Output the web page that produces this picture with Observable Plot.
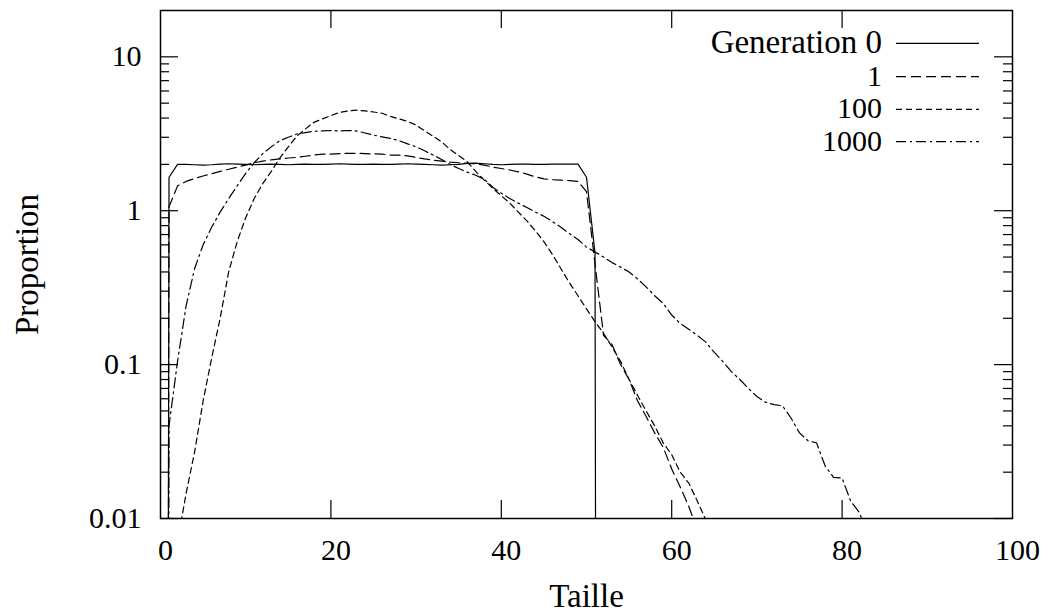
<!DOCTYPE html>
<html>
<head>
<meta charset="utf-8">
<script src="https://cdn.jsdelivr.net/npm/d3@7"></script>
<script src="https://cdn.jsdelivr.net/npm/@observablehq/plot@0.6"></script>
<style>
  html, body { margin: 0; padding: 0; background: white; overflow: hidden; }
  #chart { width: 1049px; height: 614px; }
</style>
</head>
<body>
<div id="chart"></div>
<script>
// ---- Data ----
// Particle size ("Taille") index
const sizes = d3.range(0, 84);
// Series names as they appear in the key
const seriesNames = ["Generation 0", "1", "100", "1000"];
// 1e-30 stands for a zero proportion (below the log axis)
const gen0 = [1e-30, 1.65, 2.0, 2.0, 1.99, 1.98, 1.99, 2.01, 2.02, 2.01,
  2.0, 1.99, 2.0, 2.01, 2.0, 1.99, 2.0, 2.01, 2.0, 2.0,
  2.01, 2.02, 2.01, 2.0, 2.0, 2.01, 2.0, 2.0, 2.01, 2.02,
  2.01, 2.0, 1.99, 1.98, 1.99, 2.0, 2.03, 2.04, 2.02, 2.0,
  1.99, 2.0, 2.01, 2.01, 2.0, 2.0, 2.01, 2.01, 2.01, 2.01,
  1.65, 0.53, 1e-30];
const gen1 = [1e-30, 1.06, 1.45, 1.55, 1.62, 1.68, 1.74, 1.8, 1.86, 1.92,
  1.98, 2.05, 2.1, 2.14, 2.17, 2.2, 2.22, 2.26, 2.3, 2.33,
  2.33, 2.35, 2.36, 2.36, 2.35, 2.34, 2.33, 2.3, 2.3, 2.27,
  2.22, 2.17, 2.13, 2.1, 2.07, 2.05, 2.03, 2.02, 1.98, 1.92,
  1.88, 1.84, 1.79, 1.73, 1.66, 1.61, 1.59, 1.58, 1.57, 1.55,
  1.33, 0.45, 0.155, 0.135, 0.1, 0.08, 0.058, 0.046, 0.036, 0.029,
  0.021, 0.016, 0.012, 0.0085];
const gen100 = [null, null, 0.007, 0.0145, 0.027, 0.058, 0.11, 0.2, 0.4, 0.63,
  0.9, 1.2, 1.5, 1.8, 2.2, 2.6, 3.05, 3.4, 3.75, 3.95,
  4.15, 4.35, 4.45, 4.5, 4.45, 4.38, 4.3, 4.1, 3.95, 3.8,
  3.6, 3.3, 3.05, 2.8, 2.5, 2.28, 2.08, 1.8, 1.58, 1.4,
  1.25, 1.12, 0.98, 0.86, 0.74, 0.63, 0.52, 0.42, 0.34, 0.28,
  0.23, 0.19, 0.16, 0.13, 0.105, 0.08, 0.063, 0.05, 0.04, 0.031,
  0.026, 0.02, 0.017, 0.013, 0.0098, 0.006];
const gen1000 = [1e-30, 0.04, 0.105, 0.24, 0.42, 0.6, 0.78, 0.98, 1.2, 1.45,
  1.75, 2.05, 2.35, 2.6, 2.85, 3.0, 3.15, 3.22, 3.28, 3.3,
  3.32, 3.3, 3.32, 3.3, 3.2, 3.1, 3.02, 2.95, 2.85, 2.72,
  2.6, 2.45, 2.3, 2.15, 2.0, 1.88, 1.78, 1.7, 1.6, 1.42,
  1.3, 1.2, 1.12, 1.05, 0.98, 0.92, 0.85, 0.78, 0.71, 0.65,
  0.58, 0.54, 0.5, 0.46, 0.43, 0.4, 0.36, 0.32, 0.28, 0.25,
  0.21, 0.185, 0.17, 0.155, 0.14, 0.12, 0.105, 0.09, 0.08, 0.07,
  0.062, 0.057, 0.055, 0.054, 0.045, 0.036, 0.032, 0.031, 0.022, 0.0185,
  0.0183, 0.013, 0.011, 0.008];
const seriesValues = [gen0, gen1, gen100, gen1000];

// Tick values and labels
const xTicks = [0, 20, 40, 60, 80, 100];
const xInnerTicks = [20, 40, 60, 80];
const yMajor = [0.01, 0.1, 1, 10];
const yMinor = [0.02, 0.03, 0.04, 0.05, 0.06, 0.07, 0.08, 0.09,
  0.2, 0.3, 0.4, 0.5, 0.6, 0.7, 0.8, 0.9,
  2, 3, 4, 5, 6, 7, 8, 9];
const xLabel = "Taille";
const yLabel = "Proportion";

// ---- Build table ----
const rows = [];
seriesValues.forEach((vals, s) => {
  vals.forEach((v, i) => {
    if (v != null) rows.push({size: sizes[i], p: v, gen: seriesNames[s]});
  });
});

// ---- Styles ----
const dashes = ["none", "10,5", "6,4", "10,4,2,4"];
const W = 1049, H = 614, ML = 160, MR = 37, MT = 10, MB = 96;
const PW = W - ML - MR, PH = H - MT - MB;
const FONT = "'Liberation Serif', 'DejaVu Serif', serif";
const FS = 30;      // numbers
const FS_WORD = 33; // words

const lineMarks = seriesNames.map((name, s) =>
  Plot.line(rows.filter(d => d.gen === name), {
    x: "size", y: "p", stroke: "black", strokeWidth: 1.2,
    strokeDasharray: dashes[s] === "none" ? undefined : dashes[s],
    clip: true
  })
);

const chart = Plot.plot({
  width: W, height: H,
  marginLeft: ML, marginRight: MR, marginTop: MT, marginBottom: MB,
  style: {fontFamily: FONT, fontSize: FS + "px", color: "black", background: "white"},
  x: {domain: [0, 100]},
  y: {type: "log", domain: [0.01, 20]},
  marks: [
    // inward ticks (gnuplot style) on all four sides
    Plot.tickY(yMajor, {y: d => d, insetRight: PW - 18, stroke: "black", strokeWidth: 1.2}),
    Plot.tickY(yMajor, {y: d => d, insetLeft: PW - 18, stroke: "black", strokeWidth: 1.2}),
    Plot.tickY(yMinor, {y: d => d, insetRight: PW - 9, stroke: "black", strokeWidth: 1.2}),
    Plot.tickY(yMinor, {y: d => d, insetLeft: PW - 9, stroke: "black", strokeWidth: 1.2}),
    Plot.tickX(xInnerTicks, {x: d => d, insetTop: PH - 18, stroke: "black", strokeWidth: 1.2}),
    Plot.tickX(xInnerTicks, {x: d => d, insetBottom: PH - 18, stroke: "black", strokeWidth: 1.2}),
    ...lineMarks,
    Plot.frame({stroke: "black", strokeWidth: 1.5}),
    Plot.axisX({ticks: xTicks, tickSize: 0, tickPadding: 20, dx: 5,
      tickFormat: d => String(d), label: null, fontSize: FS}),
    Plot.axisY({ticks: yMajor, tickSize: 0, tickPadding: 19,
      tickFormat: d => String(d), label: null, fontSize: FS}),
    Plot.text([yLabel], {text: d => d, frameAnchor: "left", dx: -133, rotate: -90,
      textAnchor: "middle", lineAnchor: "middle", fontSize: FS_WORD, fill: "black"}),
    Plot.text([xLabel], {text: d => d, frameAnchor: "bottom", dy: 78,
      textAnchor: "middle", lineAnchor: "middle", fontSize: FS_WORD, fill: "black"})
  ]
});

document.getElementById("chart").appendChild(chart);

// ---- Key (inside top-right of the frame) ----
const svg = d3.select(chart);
const keyY = [43.3, 76.7, 109.3, 141.7];
const key = svg.append("g").attr("font-family", FONT);
seriesNames.forEach((name, s) => {
  key.append("text")
    .attr("x", 882).attr("y", keyY[s]).attr("dy", "0.3em")
    .attr("font-size", s === 0 ? FS_WORD : FS)
    .attr("text-anchor", "end").attr("fill", "black")
    .text(name);
  const ln = key.append("line")
    .attr("x1", 896).attr("x2", 979)
    .attr("y1", keyY[s]).attr("y2", keyY[s])
    .attr("stroke", "black").attr("stroke-width", 1.2);
  if (dashes[s] !== "none") ln.attr("stroke-dasharray", dashes[s]);
});
</script>
</body>
</html>
